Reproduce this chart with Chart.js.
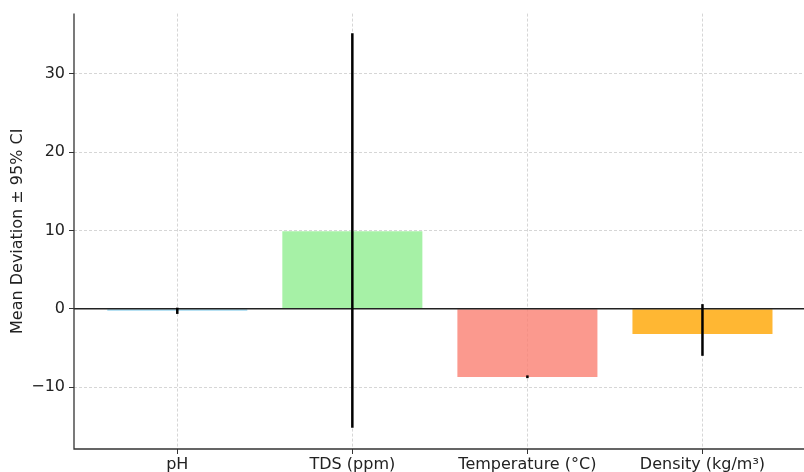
<!DOCTYPE html>
<html>
<head>
<meta charset="utf-8">
<script src="https://cdn.jsdelivr.net/npm/chart.js@4/dist/chart.umd.min.js"></script>
<style>
  html, body { margin: 0; padding: 0; background: #fff; }
  #wrap { width: 804px; height: 472px; }
</style>
</head>
<body>
<div id="wrap"><canvas id="chart" width="804" height="472"></canvas></div>
<script>
// Chart data
const categories = ['pH', 'TDS (ppm)', 'Temperature (°C)', 'Density (kg/m³)'];
const meanDev = [-0.25, 9.9, -8.7, -3.2];
const ciLow = [-0.65, -15.2, -8.85, -6.0];
const ciHigh = [0.15, 35.2, -8.5, 0.6];
const yTicks = [-10, 0, 10, 20, 30];
const barColors = [
  'rgba(135, 206, 235, 0.8)',
  'rgba(144, 238, 144, 0.8)',
  'rgba(250, 128, 114, 0.8)',
  'rgba(255, 165, 0, 0.8)'
];

const fontFamily = '"DejaVu Sans", sans-serif';

// horizontal line at zero + error bars
const overlay = {
  id: 'overlay',
  afterDatasetsDraw(chart) {
    const ctx = chart.ctx;
    const area = chart.chartArea;
    const x = chart.scales.x;
    const y = chart.scales.y;
    ctx.save();
    ctx.strokeStyle = '#222';
    ctx.lineWidth = 1.5;
    ctx.beginPath();
    const y0 = y.getPixelForValue(0);
    ctx.moveTo(area.left, y0);
    ctx.lineTo(area.right, y0);
    ctx.stroke();

    ctx.strokeStyle = '#000';
    ctx.lineWidth = 2.5;
    categories.forEach((c, i) => {
      const px = x.getPixelForValue(i);
      ctx.beginPath();
      ctx.moveTo(px, y.getPixelForValue(ciLow[i]));
      ctx.lineTo(px, y.getPixelForValue(ciHigh[i]));
      ctx.stroke();
    });
    ctx.restore();
  },
  // solid left and bottom spines
  afterDraw(chart) {
    const ctx = chart.ctx;
    const a = chart.chartArea;
    ctx.save();
    ctx.strokeStyle = '#333';
    ctx.lineWidth = 1.3;
    ctx.beginPath();
    ctx.moveTo(a.left, a.top);
    ctx.lineTo(a.left, a.bottom);
    ctx.lineTo(a.right, a.bottom);
    ctx.stroke();
    ctx.restore();
  }
};

const gridOpts = {
  color: '#d6d6d6',
  lineWidth: 1,
  offset: false,
  tickColor: '#333',
  tickBorderDash: [],
  tickLength: 5
};

new Chart(document.getElementById('chart'), {
  type: 'bar',
  data: {
    datasets: [{
      data: meanDev.map((v, i) => ({ x: i, y: v })),
      backgroundColor: barColors,
      borderWidth: 0,
      barPercentage: 0.8,
      categoryPercentage: 1.0
    }]
  },
  options: {
    responsive: false,
    animation: false,
    layout: { padding: { top: 11, right: 0, left: 0, bottom: 0 } },
    plugins: {
      legend: { display: false },
      tooltip: { enabled: false }
    },
    scales: {
      x: {
        type: 'linear',
        offset: false,
        min: -0.59,
        max: 3.58,
        afterBuildTicks: s => { s.ticks = categories.map((c, i) => ({ value: i })); },
        afterFit: s => { s.height = 23; },
        ticks: {
          callback: v => categories[v],
          font: { family: fontFamily, size: 16 },
          color: '#222',
          padding: 1,
          maxRotation: 0,
          autoSkip: false
        },
        grid: gridOpts,
        border: { display: false, dash: [3, 2] }
      },
      y: {
        min: -17.9,
        max: 37.7,
        afterBuildTicks: s => { s.ticks = yTicks.map(v => ({ value: v })); },
        afterFit: s => { s.width = 74; },
        ticks: {
          callback: v => v < 0 ? '\u2212' + Math.abs(v) : String(v),
          font: { family: fontFamily, size: 16 },
          color: '#222',
          padding: 4
        },
        grid: gridOpts,
        border: { display: false, dash: [3, 2] },
        title: {
          display: true,
          text: 'Mean Deviation ± 95% CI',
          font: { family: fontFamily, size: 16 },
          color: '#222',
          padding: { top: 8, bottom: 2 }
        }
      }
    }
  },
  plugins: [overlay]
});
</script>
</body>
</html>
